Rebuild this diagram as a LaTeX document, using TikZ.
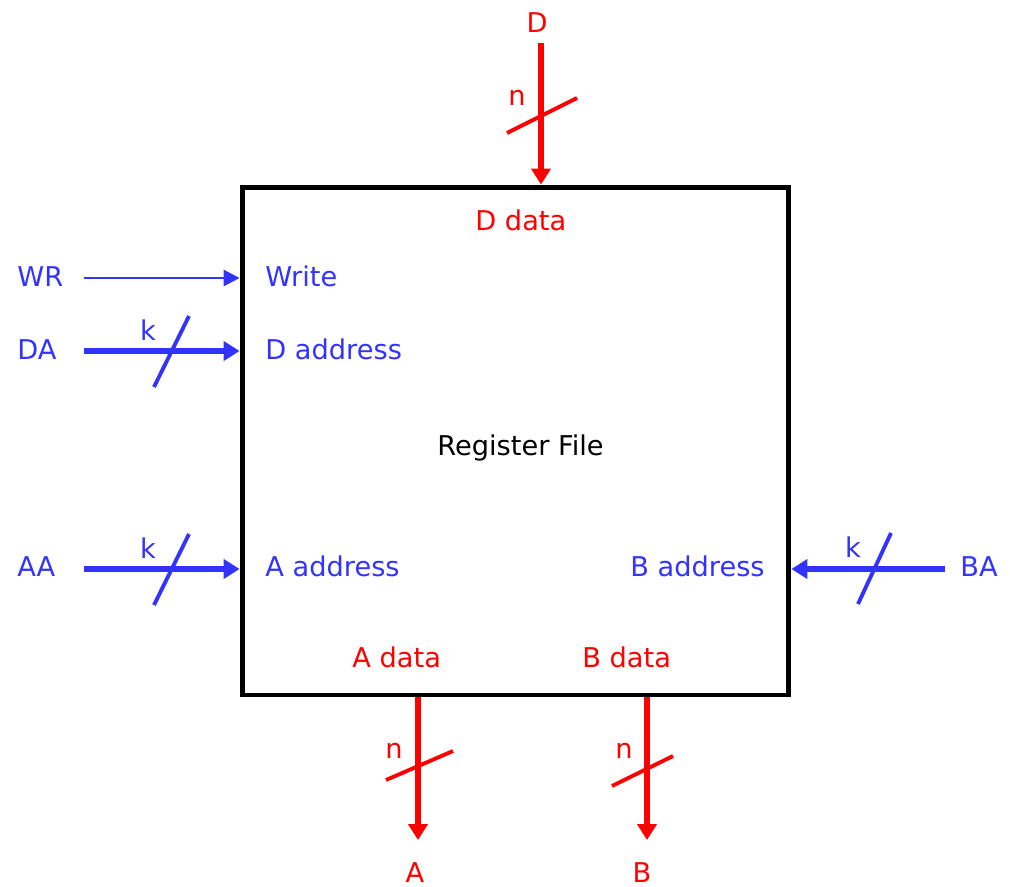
\documentclass[tikz,border=0pt]{standalone}
\usepackage{fontspec}
\setmainfont{DejaVu Sans}
\usetikzlibrary{arrows.meta,positioning}
\definecolor{sigblue}{RGB}{51,51,255}
\definecolor{sigred}{RGB}{255,0,0}
\tikzset{
  lbl/.style={font=\fontsize{15.5}{18}\selectfont, inner sep=0pt},
  ctl/.style={draw=sigblue, line width=1.7pt, -{Triangle[length=0.32cm,width=0.32cm]}},
  busb/.style={draw=sigblue, line width=3.2pt, -{Triangle[length=0.32cm,width=0.38cm]}},
  busr/.style={draw=sigred, line width=3.2pt, -{Triangle[length=0.32cm,width=0.38cm]}},
  slash/.style={line width=2.2pt}
}
\begin{document}
\begin{tikzpicture}[x=0.02cm,y=-0.02cm]
    \useasboundingbox (0,0) rectangle (1010,886);
    % register file block
    \node [draw, line width=2.8pt, minimum width=10.94cm, minimum height=10.16cm, lbl] (rf) at (515.5,441) {};
    \node [lbl, anchor=base] (title) at (520.5,455) {Register File};

    % port names inside
    \node [lbl, text=sigred, anchor=base west] (ddata) at (475,230) {D data};
    \node [lbl, text=sigblue, anchor=base west] (write) at (265,286) {Write};
    \node [lbl, text=sigblue, anchor=base west] (daddr) at (265,359) {D address};
    \node [lbl, text=sigblue, anchor=base west] (aaddr) at (265,576) {A address};
    \node [lbl, text=sigblue, anchor=base east] (baddr) at (765,576) {B address};
    \node [lbl, text=sigred, anchor=base west] (adata) at (352,667) {A data};
    \node [lbl, text=sigred, anchor=base west] (bdata) at (582,667) {B data};

    % outside signals
    \node [lbl, text=sigblue, anchor=base west] (wr) at (17,286) {WR};
    \node [lbl, text=sigblue, anchor=base west] (da) at (17,359) {DA};
    \node [lbl, text=sigblue, anchor=base west] (aa) at (17,576) {AA};
    \node [lbl, text=sigblue, anchor=base west] (ba) at (960,576) {BA};
    \node [lbl, text=sigred, anchor=base] (d) at (537,32) {D};
    \node [lbl, text=sigred, anchor=base] (a) at (415,882) {A};
    \node [lbl, text=sigred, anchor=base] (b) at (642,882) {B};

    % widths
    \node [lbl, text=sigblue, anchor=base] (kda) at (148,340) {k};
    \node [lbl, text=sigblue, anchor=base] (kaa) at (148,558) {k};
    \node [lbl, text=sigblue, anchor=base] (kba) at (853,557) {k};
    \node [lbl, text=sigred, anchor=base] (nd) at (517,105) {n};
    \node [lbl, text=sigred, anchor=base] (na) at (394,758) {n};
    \node [lbl, text=sigred, anchor=base] (nb) at (624,758) {n};

    % line ends
    \coordinate (wrs) at (84,278);
    \coordinate (das) at (84,351);
    \coordinate (aas) at (84,569);
    \coordinate (bas) at (945,569);
    \coordinate (ds) at (541,43);
    \coordinate (ae) at (418,840);
    \coordinate (be) at (647,840);

    \draw [ctl] (wrs) -- (wrs -| rf.west);
    \draw [busb] (das) -- (das -| rf.west);
    \draw [busb] (aas) -- (aas -| rf.west);
    \draw [busb] (bas) -- (bas -| rf.east);
    \draw [busr] (ds) -- (ds |- rf.north);
    \draw [busr] (ae |- rf.south) -- (ae);
    \draw [busr] (be |- rf.south) -- (be);

    % bus slashes
    \draw [slash, sigblue] (154,387) -- (189,316);
    \draw [slash, sigblue] (154,605) -- (189,534);
    \draw [slash, sigblue] (858,604) -- (891,533);
    \draw [slash, sigred] (507,133) -- (577,98);
    \draw [slash, sigred] (386,780) -- (453,751);
    \draw [slash, sigred] (612,786) -- (673,756);
\end{tikzpicture}
\end{document}
